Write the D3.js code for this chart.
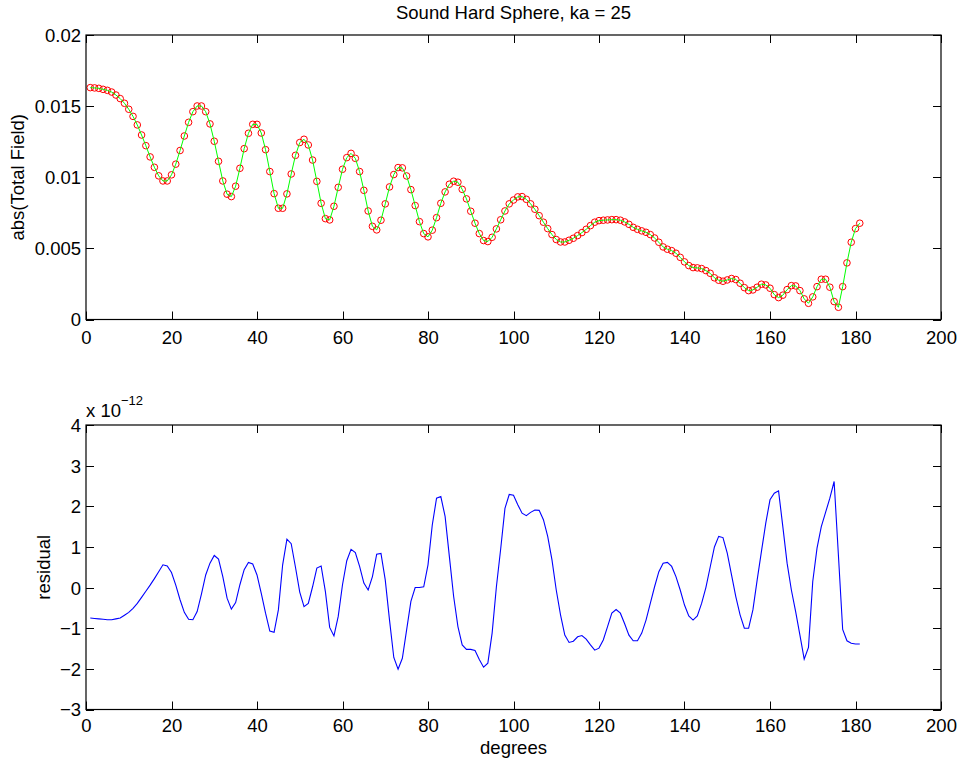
<!DOCTYPE html>
<html>
<head>
<meta charset="utf-8">
<script src="https://cdn.jsdelivr.net/npm/d3@7"></script>
<style>
  html, body { margin: 0; padding: 0; background: #fff; }
  svg { display: block; }
  text { font-family: "Liberation Sans", Arial, Helvetica, sans-serif; fill: #000; }
</style>
</head>
<body>
<div id="chart"></div>
<script>
// ---- data ----
const degrees = d3.range(1, 182); // 1..181 degrees

const totalField = [
  0.01630,0.01628,0.01625,0.01618,0.01611,0.01599,0.01578,0.01553,0.01520,0.01478,
  0.01428,0.01368,0.01297,0.01222,0.01143,0.01070,0.01010,0.00974,0.00974,0.01017,
  0.01092,0.01188,0.01290,0.01386,0.01461,0.01501,0.01501,0.01461,0.01375,0.01253,
  0.01112,0.00974,0.00881,0.00864,0.00937,0.01063,0.01201,0.01309,0.01372,0.01372,
  0.01311,0.01194,0.01040,0.00885,0.00782,0.00782,0.00883,0.01023,0.01154,0.01244,
  0.01267,0.01227,0.01121,0.00971,0.00817,0.00709,0.00700,0.00796,0.00929,0.01056,
  0.01138,0.01168,0.01133,0.01040,0.00908,0.00763,0.00655,0.00630,0.00698,0.00813,
  0.00932,0.01019,0.01068,0.01066,0.01009,0.00913,0.00801,0.00688,0.00604,0.00581,
  0.00628,0.00716,0.00817,0.00897,0.00951,0.00972,0.00965,0.00915,0.00848,0.00761,
  0.00677,0.00604,0.00555,0.00548,0.00578,0.00637,0.00701,0.00763,0.00813,0.00840,
  0.00862,0.00864,0.00845,0.00813,0.00775,0.00730,0.00684,0.00639,0.00597,0.00562,
  0.00545,0.00545,0.00557,0.00571,0.00590,0.00611,0.00634,0.00660,0.00684,0.00695,
  0.00698,0.00700,0.00702,0.00702,0.00698,0.00686,0.00669,0.00648,0.00634,0.00623,
  0.00613,0.00597,0.00573,0.00543,0.00510,0.00494,0.00484,0.00466,0.00437,0.00405,
  0.00379,0.00365,0.00363,0.00358,0.00344,0.00325,0.00293,0.00276,0.00269,0.00278,
  0.00288,0.00281,0.00255,0.00224,0.00203,0.00208,0.00227,0.00248,0.00243,0.00220,
  0.00175,0.00154,0.00171,0.00210,0.00238,0.00236,0.00203,0.00145,0.00114,0.00159,
  0.00231,0.00283,0.00283,0.00227,0.00126,0.00086,0.00231,0.00398,0.00543,0.00639,
  0.00677
];

// residual, in units of 1e-12 (axis multiplier shown as "x 10^-12")
const residualExponent = -12;
const residual = [
  -0.75,-0.76,-0.77,-0.78,-0.79,-0.79,-0.77,-0.75,-0.68,-0.61,
  -0.51,-0.39,-0.24,-0.09,0.06,0.22,0.39,0.56,0.53,0.37,
  0.06,-0.30,-0.61,-0.78,-0.79,-0.59,-0.16,0.31,0.60,0.79,
  0.70,0.27,-0.26,-0.53,-0.37,0.07,0.44,0.62,0.58,0.31,
  -0.14,-0.63,-1.07,-1.10,-0.55,0.56,1.19,1.08,0.50,-0.11,
  -0.47,-0.39,0.02,0.48,0.53,-0.10,-0.98,-1.19,-0.71,0.07,
  0.66,0.94,0.86,0.52,0.11,-0.06,0.27,0.82,0.84,0.19,
  -0.80,-1.72,-2.01,-1.74,-1.04,-0.34,0.00,0.00,0.02,0.56,
  1.54,2.20,2.24,1.75,0.76,-0.22,-0.96,-1.41,-1.52,-1.52,
  -1.55,-1.77,-1.96,-1.86,-1.12,0.02,0.95,1.95,2.29,2.27,
  2.04,1.83,1.77,1.85,1.91,1.90,1.67,1.26,0.68,-0.06,
  -0.67,-1.17,-1.35,-1.32,-1.21,-1.18,-1.27,-1.41,-1.54,-1.49,
  -1.29,-0.96,-0.63,-0.54,-0.63,-0.89,-1.17,-1.31,-1.31,-1.12,
  -0.80,-0.39,0.02,0.39,0.60,0.62,0.52,0.27,-0.06,-0.43,
  -0.70,-0.80,-0.70,-0.39,0.00,0.50,1.00,1.26,1.23,0.85,
  0.31,-0.22,-0.67,-1.00,-1.00,-0.55,0.19,0.89,1.58,2.16,
  2.32,2.38,1.50,0.60,-0.06,-0.59,-1.17,-1.76,-1.47,0.15,
  0.97,1.50,1.85,2.20,2.61,0.80,-1.03,-1.31,-1.37,-1.39,
  -1.39
];

const xTicks = [0, 20, 40, 60, 80, 100, 120, 140, 160, 180, 200];
const topYTicks = [0, 0.005, 0.01, 0.015, 0.02];
const topYTickLabels = ["0", "0.005", "0.01", "0.015", "0.02"];
const botYTicks = [-3, -2, -1, 0, 1, 2, 3, 4];

const titleText = "Sound Hard Sphere, ka = 25";
const topYLabel = "abs(Total Field)";
const botYLabel = "residual";
const xLabel = "degrees";

// ---- layout ----
const W = 959, H = 761;
const FS = 18.5;
const left = 86, right = 941;
const topPanel = { y0: 35, y1: 319.5 };
const botPanel = { y0: 425, y1: 709.5 };
const tickLen = 8;

const svg = d3.select("#chart").append("svg")
  .attr("width", W).attr("height", H)
  .attr("viewBox", `0 0 ${W} ${H}`);

svg.append("rect").attr("width", W).attr("height", H).attr("fill", "#fff");

const x = d3.scaleLinear().domain([0, 200]).range([left, right]);
const yTop = d3.scaleLinear().domain([0, 0.02]).range([topPanel.y1, topPanel.y0]);
const yBot = d3.scaleLinear().domain([-3, 4]).range([botPanel.y1, botPanel.y0]);

function fmtMinus(s) { return String(s).replace("-", "\u2212"); }

function drawAxes(y, panel, yTicks, yLabels, labelOffset) {
  const g = svg.append("g");
  const ax = d3.axisBottom(x).tickValues(xTicks).tickSize(0).tickPadding(0).tickFormat(d3.format("d"));
  const gb = g.append("g").attr("transform", `translate(0,${panel.y1})`).call(ax);
  gb.select(".domain").remove();
  gb.selectAll("text").attr("font-size", FS).attr("y", labelOffset).attr("dy", 0)
    .attr("font-family", '"Liberation Sans", Arial, sans-serif').attr("fill", "#000");
  const ay = d3.axisLeft(y).tickValues(yTicks).tickSize(0).tickPadding(0)
    .tickFormat((d, i) => yLabels ? yLabels[i] : fmtMinus(d));
  const gl = g.append("g").attr("transform", `translate(${left},0)`).call(ay);
  gl.select(".domain").remove();
  gl.selectAll("text").attr("font-size", FS).attr("x", -5).attr("dy", "0.35em")
    .attr("font-family", '"Liberation Sans", Arial, sans-serif').attr("fill", "#000");

  const tk = g.append("g").attr("stroke", "#000").attr("stroke-width", 1);
  xTicks.forEach(v => {
    const px = Math.round(x(v)) + 0.5;
    tk.append("line").attr("x1", px).attr("x2", px).attr("y1", panel.y1).attr("y2", panel.y1 - tickLen);
    tk.append("line").attr("x1", px).attr("x2", px).attr("y1", panel.y0).attr("y2", panel.y0 + tickLen);
  });
  yTicks.forEach(v => {
    const py = Math.round(y(v)) + 0.5;
    tk.append("line").attr("x1", left).attr("x2", left + tickLen).attr("y1", py).attr("y2", py);
    tk.append("line").attr("x1", right).attr("x2", right - tickLen).attr("y1", py).attr("y2", py);
  });
  g.append("rect")
    .attr("x", left).attr("y", panel.y0)
    .attr("width", right - left).attr("height", panel.y1 - panel.y0)
    .attr("fill", "none").attr("stroke", "#000").attr("stroke-width", 1.2);
}

// ---- top panel ----
const topData = degrees.map((d, i) => ({ d, v: totalField[i] }));
const gTop = svg.append("g");
gTop.selectAll("circle").data(topData).enter().append("circle")
  .attr("cx", p => x(p.d)).attr("cy", p => yTop(p.v)).attr("r", 3.3)
  .attr("fill", "none").attr("stroke", "#ff0000").attr("stroke-width", 1);
gTop.append("path").datum(topData)
  .attr("d", d3.line().x(p => x(p.d)).y(p => yTop(p.v)))
  .attr("fill", "none").attr("stroke", "#00ff00").attr("stroke-width", 1);

drawAxes(yTop, topPanel, topYTicks, topYTickLabels, 24);

// ---- bottom panel ----
const botData = degrees.map((d, i) => ({ d, v: residual[i] }));
svg.append("path").datum(botData)
  .attr("d", d3.line().x(p => x(p.d)).y(p => yBot(p.v)))
  .attr("fill", "none").attr("stroke", "#0000ff").attr("stroke-width", 1.1);

drawAxes(yBot, botPanel, botYTicks, null, 22.5);

// ---- texts ----
const cx = (left + right) / 2;
svg.append("text").attr("x", cx).attr("y", 19).attr("text-anchor", "middle")
  .attr("font-size", FS).text(titleText);

svg.append("text").attr("transform", `translate(24,${(topPanel.y0 + topPanel.y1) / 2}) rotate(-90)`)
  .attr("text-anchor", "middle").attr("font-size", FS).text(topYLabel);

svg.append("text").attr("transform", `translate(50,${(botPanel.y0 + botPanel.y1) / 2}) rotate(-90)`)
  .attr("text-anchor", "middle").attr("font-size", FS).text(botYLabel);

svg.append("text").attr("x", cx).attr("y", 754).attr("text-anchor", "middle")
  .attr("font-size", FS).text(xLabel);

const expG = svg.append("text").attr("x", left).attr("y", 417).attr("font-size", FS);
expG.append("tspan").text("x 10");
expG.append("tspan").attr("font-size", 13).attr("dy", -12).text(fmtMinus(residualExponent));
</script>
</body>
</html>
